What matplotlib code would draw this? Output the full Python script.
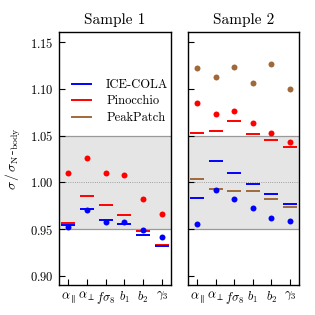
import numpy as np
import matplotlib
matplotlib.use('Agg')
import matplotlib.pyplot as plt

plt.rcParams['font.family'] = 'serif'
plt.rcParams['font.serif'] = ['cmr10', 'DejaVu Serif']
plt.rcParams['mathtext.fontset'] = 'cm'
plt.rcParams['axes.formatter.use_mathtext'] = True

params = [r'$\alpha_\parallel$', r'$\alpha_\perp$', r'$f\sigma_8$', r'$b_1$', r'$b_2$', r'$\gamma_3$']

# sample 1
s1_cola_dot = [0.952, 0.971, 0.958, 0.958, 0.949, 0.942]
s1_cola_bar = [0.955, 0.9716, 0.960, 0.956, 0.944, 0.932]
s1_pino_dot = [1.010, 1.026, 1.0106, 1.0085, 0.982, 0.9667]
s1_pino_bar = [0.9567, 0.9858, 0.9763, 0.9656, 0.9482, 0.933]

# sample 2
s2_cola_dot = [0.9553, 0.9915, 0.9819, 0.9727, 0.9617, 0.9585]
s2_cola_bar = [0.9837, 1.0234, 1.0103, 0.9986, 0.9876, 0.9769]
s2_pino_dot = [1.0844, 1.0734, 1.0763, 1.0638, 1.0532, 1.0429]
s2_pino_bar = [1.0532, 1.0546, 1.0652, 1.0514, 1.045, 1.0376]
s2_peak_dot = [1.122, 1.1128, 1.1234, 1.106, 1.1263, 1.1003]
s2_peak_bar = [1.0035, 0.9933, 0.9908, 0.9908, 0.9826, 0.9737]

c_cola = '#0000ff'
c_pino = '#ff0000'
c_peak = '#a0693a'

fig = plt.figure(figsize=(3.15, 3.15), dpi=100)
ax1 = fig.add_axes([0.187, 0.095, 0.356, 0.803])
ax2 = fig.add_axes([0.597, 0.095, 0.352, 0.803])

x = np.arange(len(params))
hw = 0.38


def panel(ax, series, title):
    ax.axhspan(0.95, 1.05, color='#e5e5e5', zorder=0, lw=0)
    ax.axhline(0.95, color='#999999', lw=0.9, zorder=1)
    ax.axhline(1.05, color='#999999', lw=0.9, zorder=1)
    ax.axhline(1.00, color='#888888', lw=0.6, ls=':', zorder=1)
    for bars, dots, c in series:
        ax.hlines(bars, x - hw, x + hw, color=c, lw=1.4, zorder=2)
    for bars, dots, c in series:
        ax.plot(x, dots, 'o', color=c, ms=4.3, mew=0, zorder=3)
    ax.set_xlim(-0.5, 5.5)
    ax.set_ylim(0.8904, 1.1606)
    ax.set_xticks(x)
    ax.set_xticklabels(params, fontsize=10)
    ax.set_yticks([0.90, 0.95, 1.00, 1.05, 1.10, 1.15])
    ax.tick_params(direction='in', length=4, width=0.8, labelsize=9)
    ax.set_title(title, fontsize=11, pad=6)
    for s in ax.spines.values():
        s.set_linewidth(1.0)


panel(ax1, [(s1_pino_bar, s1_pino_dot, c_pino), (s1_cola_bar, s1_cola_dot, c_cola)], 'Sample 1')
panel(ax2, [(s2_cola_bar, s2_cola_dot, c_cola), (s2_peak_bar, s2_peak_dot, c_peak),
            (s2_pino_bar, s2_pino_dot, c_pino)], 'Sample 2')
ax2.set_yticklabels([])
ax1.set_ylabel(r'$\sigma\,/\,\sigma_{\rm N}$-$_{\rm body}$', fontsize=10)
ax1.yaxis.set_label_coords(-0.32, 0.5)

handles = [plt.Line2D([], [], color=c, lw=1.4) for c in (c_cola, c_pino, c_peak)]
ax1.legend(handles, ['ICE-COLA', 'Pinocchio', 'PeakPatch'], loc='upper left',
           bbox_to_anchor=(0.02, 0.86), frameon=False, fontsize=9,
           handlelength=1.5, labelspacing=0.35, handletextpad=1.2)

fig.savefig('out.png', dpi=100)
